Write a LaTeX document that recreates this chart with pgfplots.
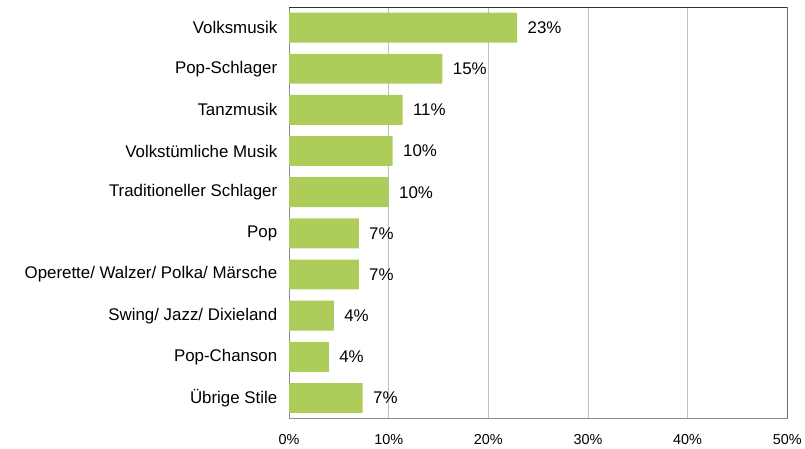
\documentclass[border=0pt]{standalone}
\usepackage{fontspec}
\setmainfont{Liberation Sans}
\usepackage{pgfplots}
\pgfplotsset{compat=1.18}
\usepackage{pgfplotstable}

\definecolor{barGreen}{RGB}{174,204,90}

\pgfplotstableread[col sep=comma]{
pos,value,label,name
0,22.9,23,Volksmusik
1,15.4,15,Pop-Schlager
2,11.4,11,Tanzmusik
3,10.4,10,Volkstümliche Musik
4,10.0,10,Traditioneller Schlager
5,7.0,7,Pop
6,7.0,7,Operette/ Walzer/ Polka/ Märsche
7,4.5,4,Swing/ Jazz/ Dixieland
8,4.0,4,Pop-Chanson
9,7.4,7,Übrige Stile
}\musik

\begin{document}
\begin{tikzpicture}
\begin{axis}[
	xbar,
	scale only axis,
	width=500bp, height=413bp,
	xmin=0, xmax=50,
	ymin=-0.5, ymax=9.5,
	y dir=reverse,
	bar width=30bp,
	xtick={0,10,...,50},
	xticklabel={\pgfmathprintnumber{\tick}\%},
	ytick={0,...,9},
	yticklabels from table={\musik}{name},
	xmajorgrids,
	major grid style={black!25},
	axis line style={black!45},
	tick style={draw=none},
	/pgf/number format/assume math mode=true,
	xticklabel style={font=\fontsize{14.5}{16}\selectfont, yshift=-12bp},
	yticklabel style={font=\fontsize{17}{19}\selectfont, xshift=-4bp},
	nodes near coords={\pgfplotspointmeta\%},
	nodes near coords align={horizontal},
	point meta=explicit symbolic,
	every node near coord/.append style={font=\fontsize{17}{19}\selectfont, anchor=west, xshift=7bp, black},
]
\addplot[fill=barGreen, draw=none] table[x=value, y=pos, meta=label] {\musik};
\draw[black!80] (axis description cs:0,1) -- (axis description cs:1,1) -- (axis description cs:1,0);
\end{axis}
\path[use as bounding box] (-290bp,-30bp) rectangle (515bp,420bp);
\end{tikzpicture}
\end{document}
